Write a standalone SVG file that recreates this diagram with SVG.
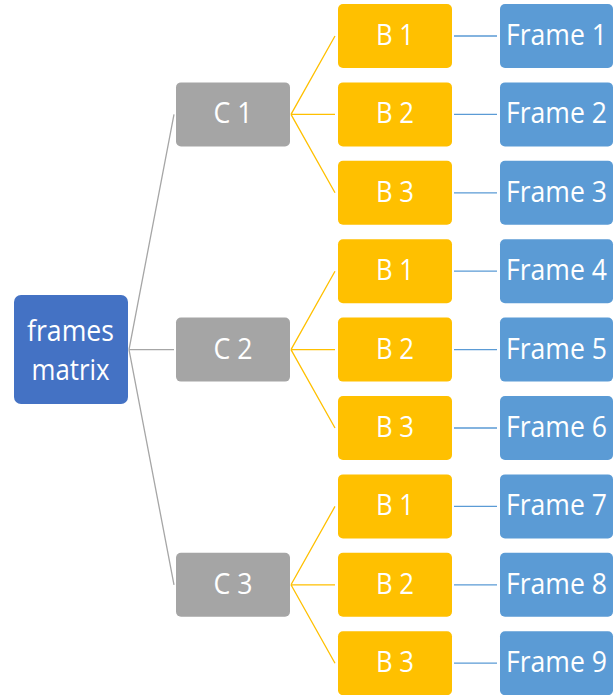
<svg xmlns="http://www.w3.org/2000/svg" width="615" height="695" viewBox="0 0 615 695">
<style>
.root{fill:#4472c4}
.c{fill:#a5a5a5}
.b{fill:#ffc000}
.f{fill:#5b9bd5}
text{font-family:"Open Sans","Noto Sans",sans-serif;font-size:30px;fill:#ffffff;text-anchor:middle}
text.ft{font-size:28.5px}
.lg{stroke:#a6a6a6;stroke-width:1.3;fill:none}
.lo{stroke:#ffc000;stroke-width:1.3;fill:none}
.lb{stroke:#5b9bd5;stroke-width:1.3;fill:none}
</style>
<rect width="615" height="695" fill="#ffffff"/>
<g id="connectors">
<path class="lg" d="M129,349.6 L174,114.4 M129,349.6 L174,349.6 M129,349.6 L174,584.8"/>
<path class="lo" d="M291,114.4 L335,36 M291,114.4 L335,114.4 M291,114.4 L335,192.8"/>
<path class="lo" d="M291,349.6 L335,271.2 M291,349.6 L335,349.6 M291,349.6 L335,428"/>
<path class="lo" d="M291,584.8 L335,506.4 M291,584.8 L335,584.8 M291,584.8 L335,663.2"/>
<path class="lb" d="M454,36 H497 M454,114.4 H497 M454,192.8 H497 M454,271.2 H497 M454,349.6 H497 M454,428 H497 M454,506.4 H497 M454,584.8 H497 M454,663.2 H497"/>
</g>
<g id="root"><rect class="root" x="14" y="295" width="114" height="109" rx="7"/><text x="70.5" y="341" textLength="87" lengthAdjust="spacingAndGlyphs">frames</text><text x="70.5" y="380" textLength="78" lengthAdjust="spacingAndGlyphs">matrix</text></g>
<g id="c1"><rect class="c" x="176" y="82.4" width="114" height="64" rx="5"/><text x="233" y="123.4" textLength="39" lengthAdjust="spacingAndGlyphs">C 1</text></g>
<g id="c2"><rect class="c" x="176" y="317.6" width="114" height="64" rx="5"/><text x="233" y="358.6" textLength="39" lengthAdjust="spacingAndGlyphs">C 2</text></g>
<g id="c3"><rect class="c" x="176" y="552.8" width="114" height="64" rx="5"/><text x="233" y="593.8" textLength="39" lengthAdjust="spacingAndGlyphs">C 3</text></g>
<g id="c1b1"><rect class="b" x="338" y="4" width="114" height="64" rx="5"/><text x="395" y="45" textLength="38" lengthAdjust="spacingAndGlyphs">B 1</text></g>
<g id="c1b2"><rect class="b" x="338" y="82.4" width="114" height="64" rx="5"/><text x="395" y="123.4" textLength="38" lengthAdjust="spacingAndGlyphs">B 2</text></g>
<g id="c1b3"><rect class="b" x="338" y="160.8" width="114" height="64" rx="5"/><text x="395" y="201.8" textLength="38" lengthAdjust="spacingAndGlyphs">B 3</text></g>
<g id="c2b1"><rect class="b" x="338" y="239.2" width="114" height="64" rx="5"/><text x="395" y="280.2" textLength="38" lengthAdjust="spacingAndGlyphs">B 1</text></g>
<g id="c2b2"><rect class="b" x="338" y="317.6" width="114" height="64" rx="5"/><text x="395" y="358.6" textLength="38" lengthAdjust="spacingAndGlyphs">B 2</text></g>
<g id="c2b3"><rect class="b" x="338" y="396" width="114" height="64" rx="5"/><text x="395" y="437" textLength="38" lengthAdjust="spacingAndGlyphs">B 3</text></g>
<g id="c3b1"><rect class="b" x="338" y="474.4" width="114" height="64" rx="5"/><text x="395" y="515.4" textLength="38" lengthAdjust="spacingAndGlyphs">B 1</text></g>
<g id="c3b2"><rect class="b" x="338" y="552.8" width="114" height="64" rx="5"/><text x="395" y="593.8" textLength="38" lengthAdjust="spacingAndGlyphs">B 2</text></g>
<g id="c3b3"><rect class="b" x="338" y="631.2" width="114" height="64" rx="5"/><text x="395" y="672.2" textLength="38" lengthAdjust="spacingAndGlyphs">B 3</text></g>
<g id="frame1"><rect class="f" x="500" y="4" width="113" height="64" rx="5"/><text class="ft" x="556.5" y="45" textLength="101" lengthAdjust="spacingAndGlyphs">Frame 1</text></g>
<g id="frame2"><rect class="f" x="500" y="82.4" width="113" height="64" rx="5"/><text class="ft" x="556.5" y="123.4" textLength="101" lengthAdjust="spacingAndGlyphs">Frame 2</text></g>
<g id="frame3"><rect class="f" x="500" y="160.8" width="113" height="64" rx="5"/><text class="ft" x="556.5" y="201.8" textLength="101" lengthAdjust="spacingAndGlyphs">Frame 3</text></g>
<g id="frame4"><rect class="f" x="500" y="239.2" width="113" height="64" rx="5"/><text class="ft" x="556.5" y="280.2" textLength="101" lengthAdjust="spacingAndGlyphs">Frame 4</text></g>
<g id="frame5"><rect class="f" x="500" y="317.6" width="113" height="64" rx="5"/><text class="ft" x="556.5" y="358.6" textLength="101" lengthAdjust="spacingAndGlyphs">Frame 5</text></g>
<g id="frame6"><rect class="f" x="500" y="396" width="113" height="64" rx="5"/><text class="ft" x="556.5" y="437" textLength="101" lengthAdjust="spacingAndGlyphs">Frame 6</text></g>
<g id="frame7"><rect class="f" x="500" y="474.4" width="113" height="64" rx="5"/><text class="ft" x="556.5" y="515.4" textLength="101" lengthAdjust="spacingAndGlyphs">Frame 7</text></g>
<g id="frame8"><rect class="f" x="500" y="552.8" width="113" height="64" rx="5"/><text class="ft" x="556.5" y="593.8" textLength="101" lengthAdjust="spacingAndGlyphs">Frame 8</text></g>
<g id="frame9"><rect class="f" x="500" y="631.2" width="113" height="64" rx="5"/><text class="ft" x="556.5" y="672.2" textLength="101" lengthAdjust="spacingAndGlyphs">Frame 9</text></g>
</svg>
